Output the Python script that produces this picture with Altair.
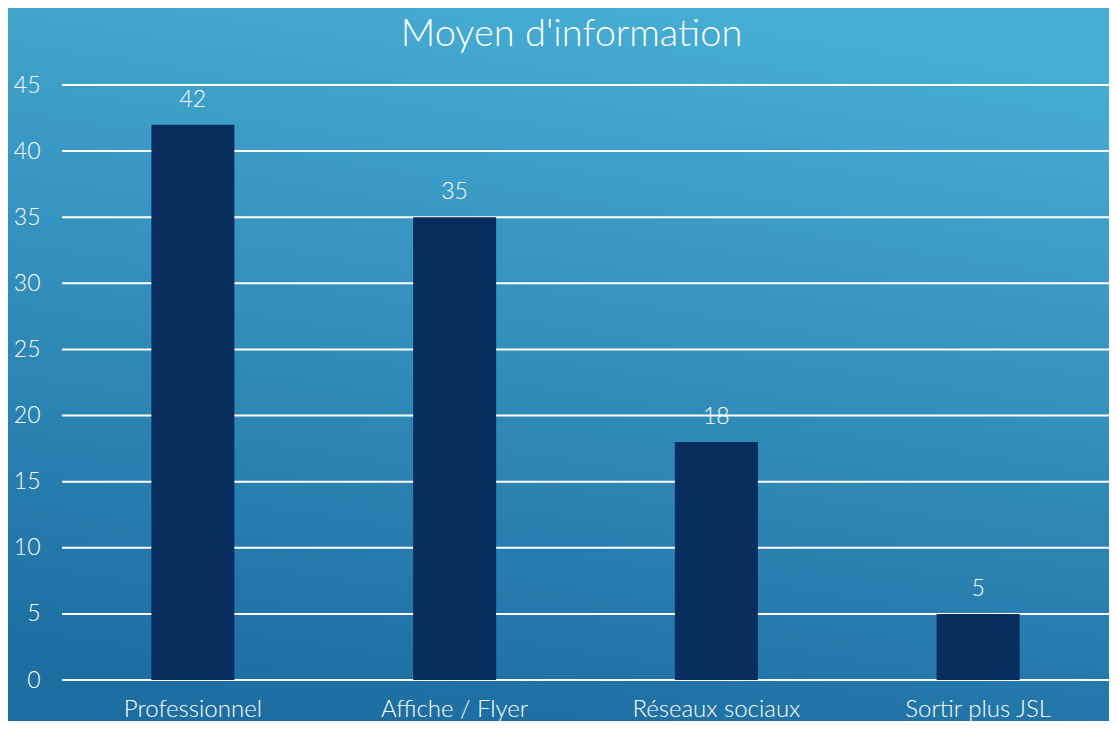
import altair as alt
import pandas as pd

categories = ["Professionnel", "Affiche / Flyer", "Réseaux sociaux", "Sortir plus JSL"]
values = [42, 35, 18, 5]
grid_values = [0, 5, 10, 15, 20, 25, 30, 35, 40, 45]
title_text = "Moyen d'information"

FONT = "Lato"
W, H = 1047, 595
PAD_L, PAD_T, PAD_R, PAD_B = 54, 77, 0, 41

df = pd.DataFrame({"cat": categories, "val": values})
grid_df = pd.DataFrame({"g": grid_values})
bg_df = pd.DataFrame({"a": [0]})

x_enc = alt.X("cat:N", sort=categories,
              scale=alt.Scale(paddingInner=0, paddingOuter=0),
              axis=alt.Axis(title=None, labelAngle=0, ticks=False, domain=False,
                            labelColor="white", labelFontSize=24, labelFont=FONT,
                            labelFontWeight=300,
                            labelPadding=17, zindex=1))
y_scale = alt.Scale(domain=[0, 45], nice=False)

bg = alt.Chart(bg_df).mark_rect(
    color=alt.Gradient(
        gradient="linear", x1=0.62, y1=0, x2=0.38, y2=1,
        stops=[alt.GradientStop(color="#47add4", offset=0),
               alt.GradientStop(color="#1d6ea1", offset=1)]
    )
).encode(
    x=alt.value(-PAD_L), x2=alt.value(W + PAD_R),
    y=alt.value(-PAD_T), y2=alt.value(H + PAD_B)
)

grid = alt.Chart(grid_df).mark_rule(color="white", strokeWidth=2).encode(
    y=alt.Y("g:Q", scale=y_scale,
            axis=alt.Axis(title=None, values=grid_values, grid=False, ticks=False,
                          domain=False, labelColor="white", labelFontSize=23,
                          labelFont=FONT, labelFontWeight=300,
                          labelPadding=22, zindex=1))
)

bars = alt.Chart(df).mark_bar(size=83, color="#072e5e").encode(
    x=x_enc,
    y=alt.Y("val:Q", scale=y_scale)
)

labels = alt.Chart(df).mark_text(
    color="white", fontSize=23, font=FONT, fontWeight=300,
    baseline="alphabetic", dy=-18
).encode(
    x=alt.X("cat:N", sort=categories),
    y=alt.Y("val:Q", scale=y_scale),
    text=alt.Text("val:Q")
)

chart = alt.layer(bg, grid, bars, labels).properties(
    width=W, height=H,
    title=alt.TitleParams(title_text, color="white", fontSize=38, font=FONT,
                          fontWeight=300, anchor="middle", baseline="alphabetic",
                          offset=-76, dx=-14),
    autosize=alt.AutoSizeParams(type="none"),
    padding={"left": PAD_L, "top": PAD_T, "right": PAD_R, "bottom": PAD_B},
).configure_view(stroke=None).configure(background="#2a86b8")

chart.save("out.html", embed_options={"renderer": "svg", "actions": False})
